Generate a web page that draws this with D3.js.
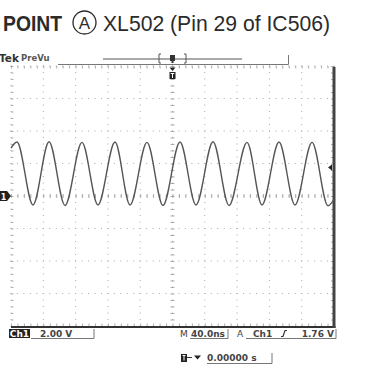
<!DOCTYPE html>
<html>
<head>
<meta charset="utf-8">
<script src="https://cdn.jsdelivr.net/npm/d3@7"></script>
<style>
  body { margin: 0; background: #fff; }
  svg { display: block; }
</style>
</head>
<body>
<div id="scope"></div>
<script>
// waveform: times in ns (trigger at 0), levels in volts
var peakTimes   = [-192.6, -152.9, -112.1, -71.2, -31.6, 9.3, 50.2, 92.3, 131.9, 172.8];
var peakVolts   = [3.32, 3.34, 3.30, 3.32, 3.30, 3.32, 3.34, 3.30, 3.32, 3.30];
var troughTimes = [-172.8, -133.1, -92.3, -52.6, -11.8, 29.1, 70.0, 110.8, 151.7, 192.6];
var troughVolts = [-0.55, -0.58, -0.55, -0.55, -0.58, -0.55, -0.58, -0.55, -0.55, -0.60];
var edgeTimes   = [-200, 200];
var edgeVolts   = [2.95, -0.2];

// scope settings
var voltsPerDiv = 2.00;
var nsPerDiv = 40.0;
var trigLevel = 1.76;
var divsX = 10, divsY = 8;

var width = 387, height = 390;
var plot = { left: 11, right: 334, top: 66, bottom: 326 };

var svg = d3.select("#scope").append("svg")
    .attr("width", width)
    .attr("height", height);

var x = d3.scaleLinear()
    .domain([-divsX / 2 * nsPerDiv, divsX / 2 * nsPerDiv])
    .range([plot.left, plot.right]);
var y = d3.scaleLinear()
    .domain([-divsY / 2 * voltsPerDiv, divsY / 2 * voltsPerDiv])
    .range([plot.bottom, plot.top]);

/* ****** Title ****** */
var title = svg.append("g").attr("fill", "#2b2b2b")
    .style("font-family", "'Liberation Sans', Arial, sans-serif");
title.append("text").attr("x", 3).attr("y", 31)
    .attr("font-size", 22).attr("font-weight", "bold")
    .attr("textLength", 59).attr("lengthAdjust", "spacingAndGlyphs")
    .text("POINT");
title.append("circle").attr("cx", 84.5).attr("cy", 22.5).attr("r", 11.5)
    .attr("fill", "none").attr("stroke", "#2b2b2b").attr("stroke-width", 1.3);
title.append("text").attr("x", 84.5).attr("y", 29).attr("text-anchor", "middle")
    .attr("font-size", 17).text("A");
title.append("text").attr("x", 103).attr("y", 31)
    .attr("font-size", 22)
    .attr("textLength", 227).attr("lengthAdjust", "spacingAndGlyphs")
    .text("XL502 (Pin 29 of IC506)");

/* ****** Top status bar ****** */
var topBar = svg.append("g").style("font-family", "'DejaVu Sans', sans-serif");
topBar.append("text").attr("x", -1).attr("y", 62).attr("font-size", 10.5)
    .attr("font-weight", "bold").attr("fill", "#333").text("Tek");
topBar.append("text").attr("x", 21).attr("y", 61).attr("font-size", 8.5)
    .attr("font-weight", "bold").attr("fill", "#555").text("PreVu");
topBar.append("path").attr("d", "M58,64.5H288.5V55")
    .attr("fill", "none").attr("stroke", "#777").attr("stroke-width", 1);
topBar.append("line").attr("x1", 103).attr("x2", 242).attr("y1", 59).attr("y2", 59)
    .attr("stroke", "#555").attr("stroke-width", 1.2);
topBar.append("path").attr("d", "M161,54H159V63H161M184,54H186V63H184")
    .attr("fill", "none").attr("stroke", "#555").attr("stroke-width", 1);
topBar.append("path").attr("d", "M" + (x(0) - 2.5) + ",55h5v6h-1.5v2h-2v-2h-1.5z")
    .attr("fill", "#333");

/* ****** Graticule ****** */
var grid = svg.append("g");
var minorX = d3.range(-divsX / 2 * 5, divsX / 2 * 5 + 1).map(function(i) { return i * nsPerDiv / 5; });
var minorY = d3.range(-divsY / 2 * 5, divsY / 2 * 5 + 1).map(function(i) { return i * voltsPerDiv / 5; });
var majorX = d3.range(-divsX / 2, divsX / 2 + 1).map(function(i) { return i * nsPerDiv; });
var majorY = d3.range(-divsY / 2, divsY / 2 + 1).map(function(i) { return i * voltsPerDiv; });

// dotted division lines
majorX.slice(0, -1).forEach(function(t) {
    grid.selectAll(null).data(minorY).enter().append("rect")
        .attr("x", x(t) - 0.5).attr("y", function(v) { return y(v) - 0.5; })
        .attr("width", 1).attr("height", 1).attr("fill", "#a8a8a8");
});
majorY.slice(1).forEach(function(v) {
    grid.selectAll(null).data(minorX).enter().append("rect")
        .attr("x", function(t) { return x(t) - 0.5; }).attr("y", y(v) - 0.5)
        .attr("width", 1).attr("height", 1).attr("fill", "#a8a8a8");
});

// minor ticks on centre lines and on the frame
function ticks(axis, scale, vals, size) {
    return axis(scale).tickValues(vals).tickSize(size).tickFormat("");
}
function styleAxis(g) {
    g.select(".domain").remove();
    g.selectAll(".tick line").attr("stroke", "#999").attr("stroke-width", 0.8);
}
grid.append("g").attr("transform", "translate(0," + (y(0) + 2) + ")")
    .call(ticks(d3.axisTop, x, minorX, 4)).call(styleAxis);
grid.append("g").attr("transform", "translate(" + (x(0) + 2) + ",0)")
    .call(ticks(d3.axisLeft, y, minorY, 4)).call(styleAxis);
grid.append("g").attr("transform", "translate(0," + plot.top + ")")
    .call(ticks(d3.axisBottom, x, minorX, 2.5)).call(styleAxis);
grid.append("g").attr("transform", "translate(0," + plot.bottom + ")")
    .call(ticks(d3.axisTop, x, minorX, 2.5)).call(styleAxis);
grid.append("g").attr("transform", "translate(" + plot.left + ",0)")
    .call(ticks(d3.axisRight, y, minorY, 2.5)).call(styleAxis);
grid.append("g").attr("transform", "translate(" + plot.right + ",0)")
    .call(ticks(d3.axisLeft, y, minorY, 3)).call(styleAxis);

grid.append("line").attr("x1", plot.left).attr("x2", plot.right + 1.5)
    .attr("y1", plot.bottom + 1).attr("y2", plot.bottom + 1)
    .attr("stroke", "#333").attr("stroke-width", 2);
grid.append("line").attr("x1", plot.right).attr("x2", plot.right)
    .attr("y1", plot.top + 1).attr("y2", plot.bottom + 2)
    .attr("stroke", "#444").attr("stroke-width", 3);

/* ****** Trace ****** */
var points = [];
peakTimes.forEach(function(t, i) { points.push([t, peakVolts[i]]); });
troughTimes.forEach(function(t, i) { points.push([t, troughVolts[i]]); });
edgeTimes.forEach(function(t, i) { points.push([t, edgeVolts[i]]); });
points.sort(function(a, b) { return a[0] - b[0]; });

var line = d3.line()
    .x(function(d) { return x(d[0]); })
    .y(function(d) { return y(d[1]); })
    .curve(d3.curveMonotoneX);

svg.append("path").datum(points)
    .attr("d", line)
    .attr("fill", "none")
    .attr("stroke", "#555")
    .attr("stroke-width", 1.4);

/* ****** Markers ****** */
// ground reference for Ch1
var gy = y(0);
svg.append("path")
    .attr("d", "M0," + (gy - 5) + "H7L11," + gy + "L7," + (gy + 5) + "H0Z")
    .attr("fill", "#222");
svg.append("text").attr("x", 3.5).attr("y", gy + 3.5).attr("text-anchor", "middle")
    .attr("font-size", 8).attr("font-weight", "bold").attr("fill", "#fff")
    .style("font-family", "'DejaVu Sans', sans-serif").text("1");
// trigger level
var ty = y(trigLevel);
svg.append("path")
    .attr("d", "M" + (plot.right - 6) + "," + ty + "l4,-3v6z")
    .attr("fill", "#222");
// trigger position
var tx = x(0);
svg.append("path").attr("d", "M" + (tx - 3) + ",67.5h6l-3,3.5z").attr("fill", "#222");
svg.append("rect").attr("x", tx - 3).attr("y", 72).attr("width", 6).attr("height", 7)
    .attr("fill", "#222");
svg.append("path").attr("d", "M" + (tx - 1.8) + ",73.5h3.6M" + tx + ",73.5v4.5")
    .attr("stroke", "#fff").attr("stroke-width", 1);

/* ****** Bottom readouts ****** */
var read = svg.append("g")
    .style("font-family", "'DejaVu Sans', sans-serif")
    .attr("font-size", 9).attr("font-weight", "bold").attr("fill", "#444");

read.append("rect").attr("x", 9).attr("y", 329).attr("width", 21).attr("height", 9)
    .attr("fill", "#222");
read.append("text").attr("x", 19.5).attr("y", 337).attr("text-anchor", "middle")
    .attr("fill", "#fff").text("Ch1");
read.append("text").attr("x", 40).attr("y", 337).text(voltsPerDiv.toFixed(2) + " V");
read.append("path").attr("d", "M31,338.5H94V329")
    .attr("fill", "none").attr("stroke", "#777").attr("stroke-width", 1);

read.append("text").attr("x", 180).attr("y", 337).attr("font-weight", "normal").text("M");
read.append("text").attr("x", 191).attr("y", 337).text(nsPerDiv.toFixed(1) + "ns");
read.append("path").attr("d", "M190,338.5H228V329")
    .attr("fill", "none").attr("stroke", "#777").attr("stroke-width", 1);

read.append("text").attr("x", 237).attr("y", 337).attr("font-weight", "normal").text("A");
read.append("text").attr("x", 253).attr("y", 337).text("Ch1");
read.append("path").attr("d", "M281,336.5h2l2,-6h2")
    .attr("fill", "none").attr("stroke", "#333").attr("stroke-width", 1.2);
read.append("text").attr("x", 334).attr("y", 337).attr("text-anchor", "end")
    .text(trigLevel.toFixed(2) + " V");
read.append("path").attr("d", "M246,338.5H336V329")
    .attr("fill", "none").attr("stroke", "#777").attr("stroke-width", 1);

read.append("rect").attr("x", 181).attr("y", 354).attr("width", 6).attr("height", 8)
    .attr("fill", "#222");
read.append("path").attr("d", "M182.5,355.5h3M184,355.5v5")
    .attr("stroke", "#fff").attr("stroke-width", 1);
read.append("path").attr("d", "M187,357.5h5").attr("stroke", "#333").attr("stroke-width", 1);
read.append("path").attr("d", "M194,355.5h7l-3.5,4z").attr("fill", "#222");
read.append("text").attr("x", 207).attr("y", 361).text("0.00000 s");
read.append("path").attr("d", "M207,363.5H272V353")
    .attr("fill", "none").attr("stroke", "#777").attr("stroke-width", 1);
</script>
</body>
</html>
